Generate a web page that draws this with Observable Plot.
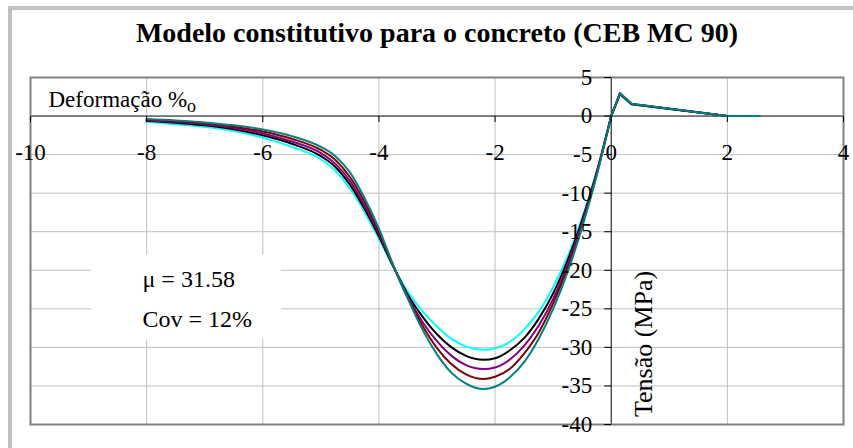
<!DOCTYPE html>
<html>
<head>
<meta charset="utf-8">
<script src="https://cdn.jsdelivr.net/npm/d3@7"></script>
<script src="https://cdn.jsdelivr.net/npm/@observablehq/plot@0.6"></script>
<style>
  html, body { margin: 0; padding: 0; background: #fff; }
  #wrap { position: relative; width: 853px; height: 448px; overflow: hidden; }
  #border { position: absolute; left: 8px; top: 6px; width: 900px; height: 500px;
            border-left: 4px solid #c0c0c0; border-top: 4px solid #c0c0c0; }
  #chart { position: absolute; left: 0; top: 0; }
  #chart svg text { font-family: "Liberation Serif", "Times New Roman", serif; }
</style>
</head>
<body>
<div id="wrap"><div id="border"></div><div id="chart"></div></div>
<script>
// Strain (per mille) shared by every curve; compression negative, tension positive
const strain = [-8, -7.5, -7, -6.5, -6, -5.5, -5, -4.75, -4.5, -4.25, -4, -3.75, -3.5, -3.25, -3, -2.75,
                -2.5, -2.2, -2, -1.75, -1.5, -1.25, -1, -0.75, -0.5, -0.25, 0, 0.15, 0.35, 2, 2.55];

// Stress (MPa) for each concrete strength sample
const stressCyan = [-0.75, -1.05, -1.4, -1.95, -2.8, -4.0, -5.6, -7.1, -9.4, -12.4, -15.9, -19.6, -22.8, -25.3, -27.3, -28.9,
                    -29.9, -30.3, -30.1, -29.3, -27.7, -25.4, -22.2, -18.2, -13.2, -7.2, 0, 2.8, 1.5, 0, 0];
const stressBlack = [-0.62, -0.88, -1.2, -1.7, -2.5, -3.6, -5.2, -6.6, -8.9, -12.0, -15.6, -19.55, -23.2, -26.0, -28.3, -30.0,
                     -31.1, -31.6, -31.4, -30.4, -28.8, -26.3, -23.0, -18.7, -13.5, -7.3, 0, 2.85, 1.52, 0, 0];
const stressPurple = [-0.53, -0.77, -1.07, -1.55, -2.25, -3.3, -4.8, -6.2, -8.4, -11.6, -15.3, -19.5, -23.5, -26.7, -29.2, -31.1,
                      -32.3, -32.8, -32.6, -31.6, -29.8, -27.2, -23.7, -19.2, -13.8, -7.4, 0, 2.9, 1.55, 0, 0];
const stressDarkRed = [-0.45, -0.66, -0.94, -1.38, -2.0, -2.95, -4.4, -5.7, -7.9, -11.1, -15.0, -19.45, -23.65, -27.2, -30.1, -32.2,
                       -33.5, -34.1, -33.8, -32.8, -30.8, -28.1, -24.3, -19.7, -14.1, -7.6, 0, 2.95, 1.58, 0, 0];
const stressTeal = [-0.38, -0.56, -0.82, -1.2, -1.75, -2.6, -4.0, -5.2, -7.3, -10.6, -14.6, -19.4, -23.7, -27.7, -30.9, -33.3,
                    -34.7, -35.4, -35.1, -33.9, -31.9, -28.9, -25.0, -20.2, -14.4, -7.7, 0, 3.0, 1.6, 0, 0];

const xTicks = [-10, -8, -6, -4, -2, 0, 2, 4];
const yTicks = [5, 0, -5, -10, -15, -20, -25, -30, -35, -40];

const title = "Modelo constitutivo para o concreto (CEB MC 90)";
const xTitle = "Deformação %";
const yTitle = "Tensão (MPa)";
const noteMean = "μ = 31.58";
const noteCov = "Cov = 12%";

const curves = [
  {values: stressCyan, color: "#00ffff"},
  {values: stressBlack, color: "#000000"},
  {values: stressPurple, color: "#800080"},
  {values: stressDarkRed, color: "#800000"},
  {values: stressTeal, color: "#008080"}
];

// small tick glyphs drawn on the axes that cross at the origin
const tickDown = {draw(ctx) { ctx.moveTo(0, 0); ctx.lineTo(0, 6); }};
const tickLeft = {draw(ctx) { ctx.moveTo(-7, 0); ctx.lineTo(0, 0); }};

const serif = '"Liberation Serif", "Times New Roman", serif';

// compression branch is smooth, tension branch is piecewise linear
const branch = (values, keep) => strain.map((e, i) => [e, values[i]]).filter(([e]) => keep(e));

const chart = Plot.plot({
  width: 853,
  height: 448,
  marginLeft: 30,
  marginRight: 10,
  marginTop: 77,
  marginBottom: 24,
  style: {fontFamily: serif, background: "transparent", overflow: "visible"},
  x: {domain: [-10, 4], axis: null},
  y: {domain: [-40, 5], axis: null},
  marks: [
    Plot.gridX(xTicks.filter(d => d !== 0), {stroke: "#c0c0c0", strokeOpacity: 1, strokeWidth: 1}),
    Plot.gridY(yTicks.filter(d => d !== 0), {stroke: "#c0c0c0", strokeOpacity: 1, strokeWidth: 1}),
    // white box behind the statistics note
    Plot.rect([0], {x1: () => -8.95, x2: () => -5.68, y1: () => -18, y2: () => -29, fill: "white"}),
    Plot.ruleY([0], {stroke: "black", strokeWidth: 1}),
    Plot.ruleX([0], {stroke: "black", strokeWidth: 1}),
    Plot.frame({stroke: "#808080", strokeWidth: 2}),
    ...curves.flatMap(c => [
      Plot.line(branch(c.values, e => e <= 0), {
        x: d => d[0], y: d => d[1], stroke: c.color, strokeWidth: 2, curve: "monotone-x"
      }),
      Plot.line(branch(c.values, e => e >= 0), {
        x: d => d[0], y: d => d[1], stroke: c.color, strokeWidth: 2
      })
    ]),
    Plot.dot(xTicks, {x: d => d, y: () => 0, symbol: tickDown, r: 1, stroke: "black", fill: "none", strokeWidth: 1}),
    Plot.dot(yTicks, {x: () => 0, y: d => d, symbol: tickLeft, r: 1, stroke: "black", fill: "none", strokeWidth: 1}),
    Plot.text(xTicks, {x: d => d, y: () => 0, text: d => String(d), dy: 36.5, fontSize: 23, fontFamily: serif,
                       lineAnchor: "middle"}),
    Plot.text(yTicks, {x: () => 0, y: d => d, text: d => String(d), dx: -19, fontSize: 23, fontFamily: serif,
                       textAnchor: "end", lineAnchor: "middle"}),
    Plot.text([title], {text: d => d, frameAnchor: "top", dy: -44, fontSize: 28, fontWeight: "bold",
                        fontFamily: serif, lineAnchor: "middle"}),
    Plot.text([xTitle], {text: d => d, frameAnchor: "top-left", dx: 18, dy: 22.3, fontSize: 23, fontFamily: serif,
                         textAnchor: "start", lineAnchor: "middle"}),
    Plot.text([yTitle], {text: d => d, frameAnchor: "left", dx: 613, dy: 93, rotate: -90, fontSize: 26,
                         fontFamily: serif, textAnchor: "middle", lineAnchor: "middle"}),
    Plot.text([noteMean], {text: d => d, frameAnchor: "top-left", dx: 112, dy: 202, fontSize: 24, fontFamily: serif,
                           textAnchor: "start", lineAnchor: "middle"}),
    Plot.text([noteCov], {text: d => d, frameAnchor: "top-left", dx: 112, dy: 242.3, fontSize: 24, fontFamily: serif,
                          textAnchor: "start", lineAnchor: "middle"})
  ]
});

// per-mille sign written as "%" with a lowered "o"
for (const t of chart.querySelectorAll("text")) {
  if (t.textContent === xTitle) {
    const sub = document.createElementNS("http://www.w3.org/2000/svg", "tspan");
    sub.setAttribute("dy", "5");
    sub.setAttribute("font-size", "18");
    sub.textContent = "o";
    t.appendChild(sub);
  }
}

document.getElementById("chart").appendChild(chart);
</script>
</body>
</html>
